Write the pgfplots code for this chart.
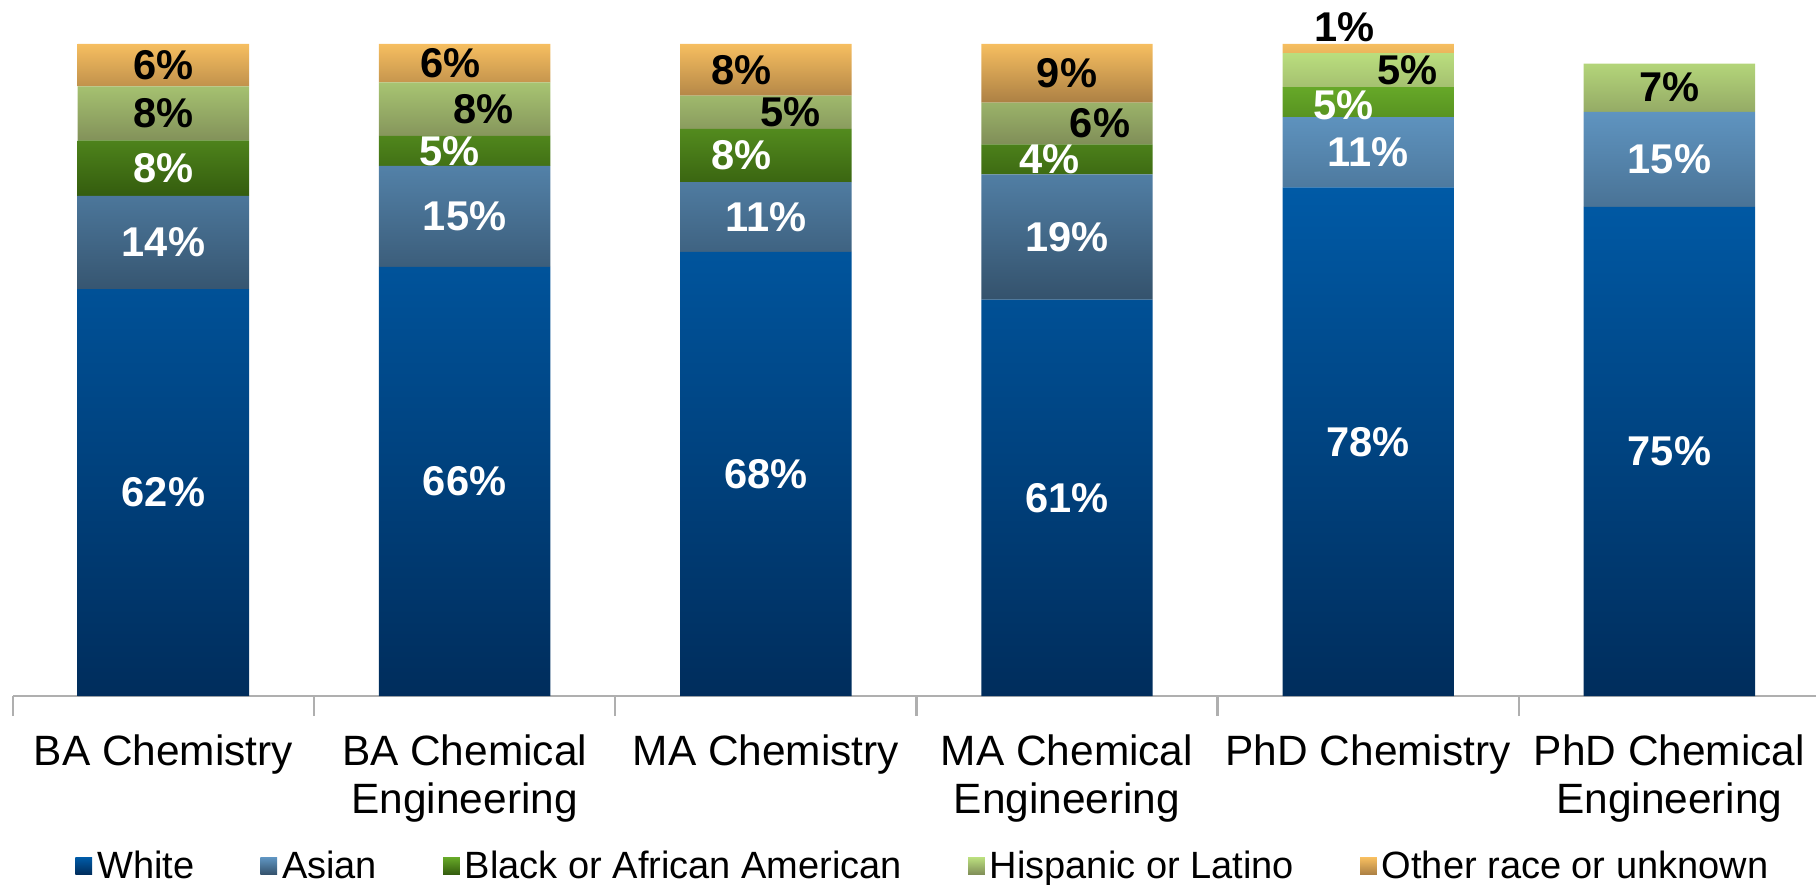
\documentclass[border=0pt]{standalone}
\usepackage{pgfplots}
\pgfplotsset{compat=1.18}
\usepackage{pgfplotstable}
\usepackage{fontspec}
\setmainfont{Liberation Sans}

\definecolor{wTop}{RGB}{0,90,166}
\definecolor{wBot}{RGB}{0,45,92}
\definecolor{aTop}{RGB}{95,148,192}
\definecolor{aBot}{RGB}{52,82,108}
\definecolor{bTop}{RGB}{102,168,40}
\definecolor{bBot}{RGB}{52,92,14}
\definecolor{hTop}{RGB}{186,222,126}
\definecolor{hBot}{RGB}{128,142,88}
\definecolor{oTop}{RGB}{246,190,96}
\definecolor{oBot}{RGB}{172,128,68}
\definecolor{axgray}{RGB}{175,175,175}

\newcommand{\labfont}{\fontsize{20.8}{24}\selectfont\bfseries}
\newcommand{\tickfont}{\fontsize{21.2}{24}\selectfont}
\newcommand{\legfont}{\fontsize{19}{22}\selectfont}

% x: category index, y: share (%), lab: printed label, dx/dy: label offsets (pt)
\pgfplotstableread{
x y lab dx dy
0 62.4 62\% 0 0
1 65.8 66\% 0 0
2 68.1 68\% 0 0
3 60.8 61\% 0 0
4 78.0 78\% 0 0
5 75.0 75\% 0 0
}\tWhite
\pgfplotstableread{
x y lab dx dy
0 14.3 14\% 0 0
1 15.5 15\% 0 0
2 10.7 11\% 0 0
3 19.2 19\% 0 0
4 10.8 11\% 0 0
5 14.6 15\% 0 0
}\tAsian
\pgfplotstableread{
x y lab dx dy
0 8.5 8\% 0 0
1 4.6 5\% -7.5 0
2 8.2 8\% -12.3 0
3 4.6 4\% -8.6 0
4 4.6 5\% -12.3 -1.5
5 0 {} 0 0
}\tBlack
\pgfplotstableread{
x y lab dx dy
0 8.3 8\% 0 0
1 8.2 8\% 9.4 0
2 5.1 5\% 12.2 0
3 6.4 6\% 16.5 0
4 5.2 5\% 19.7 0
5 7.4 7\% 0 0
}\tHisp
\pgfplotstableread{
x y lab dx dy
0 6.5 6\% 0 0
1 5.9 6\% -7 0
2 7.9 8\% -12.3 0
3 9.0 9\% 0 0
4 1.4 1\% -12 10.5
5 0 {} 0 0
}\tOther

\pgfplotsset{
  seglab/.style={
    nodes near coords={\pgfplotspointmeta},
    point meta=explicit symbolic,
    visualization depends on={\thisrow{dx} \as \dxv},
    visualization depends on={\thisrow{dy} \as \dyv},
    every node near coord/.append style={anchor=center, font=\labfont, text=#1,
      inner sep=0pt,
      xshift={(\dxv)*1pt}, yshift={(\dyv)*1pt}},
  },
}

\begin{document}
\begin{tikzpicture}
\useasboundingbox (0,0) rectangle (908pt,442pt);
\begin{axis}[
  at={(6.4pt,94pt)}, anchor=south west,
  x=150.6pt, y=3.26pt,
  xmin=-0.5, xmax=5.487, ymin=0, ymax=100,
  clip=false,
  ybar stacked, bar width=85.7pt,
  axis y line=none, axis x line=bottom,
  x axis line style={-, draw=axgray, line width=1.2pt},
  xtick={0,1,2,3,4,5},
  xticklabels={BA Chemistry, {BA Chemical\\Engineering}, MA Chemistry, {MA Chemical\\Engineering}, PhD Chemistry, {PhD Chemical\\Engineering}},
  xticklabel style={font=\tickfont, align=center, inner sep=0pt, anchor=north, yshift=-19pt},
  major tick length=0pt,
  tick align=outside,
  extra x ticks={-0.5,0.5,1.5,2.5,3.5,4.5},
  extra x tick labels={},
  extra x tick style={major tick length=10pt, tick style={draw=axgray, line width=1.2pt}},
  legend columns=5,
  legend cell align=left,
  legend image code/.code={\fill[#1] (0pt,-4.2pt) rectangle (8.4pt,4.2pt);},
  legend style={at={(0.5055,-0.2607)}, anchor=center, draw=none, fill=none,
    font=\legfont, inner sep=0pt,
    nodes={inner xsep=2.5pt, inner ysep=0pt},
    /tikz/every even column/.append style={column sep=30.5pt}},
]
\addplot[draw=none, top color=wTop, bottom color=wBot, seglab=white] table[x=x, y=y, meta=lab] {\tWhite};
\addplot[draw=none, top color=aTop, bottom color=aBot, seglab=white] table[x=x, y=y, meta=lab] {\tAsian};
\addplot[draw=none, top color=bTop, bottom color=bBot, seglab=white] table[x=x, y=y, meta=lab] {\tBlack};
\addplot[draw=none, top color=hTop, bottom color=hBot, seglab=black] table[x=x, y=y, meta=lab] {\tHisp};
\addplot[draw=none, top color=oTop, bottom color=oBot, seglab=black] table[x=x, y=y, meta=lab] {\tOther};
\legend{White, Asian, Black or African American, Hispanic or Latino, Other race or unknown}
\end{axis}
\end{tikzpicture}
\end{document}
